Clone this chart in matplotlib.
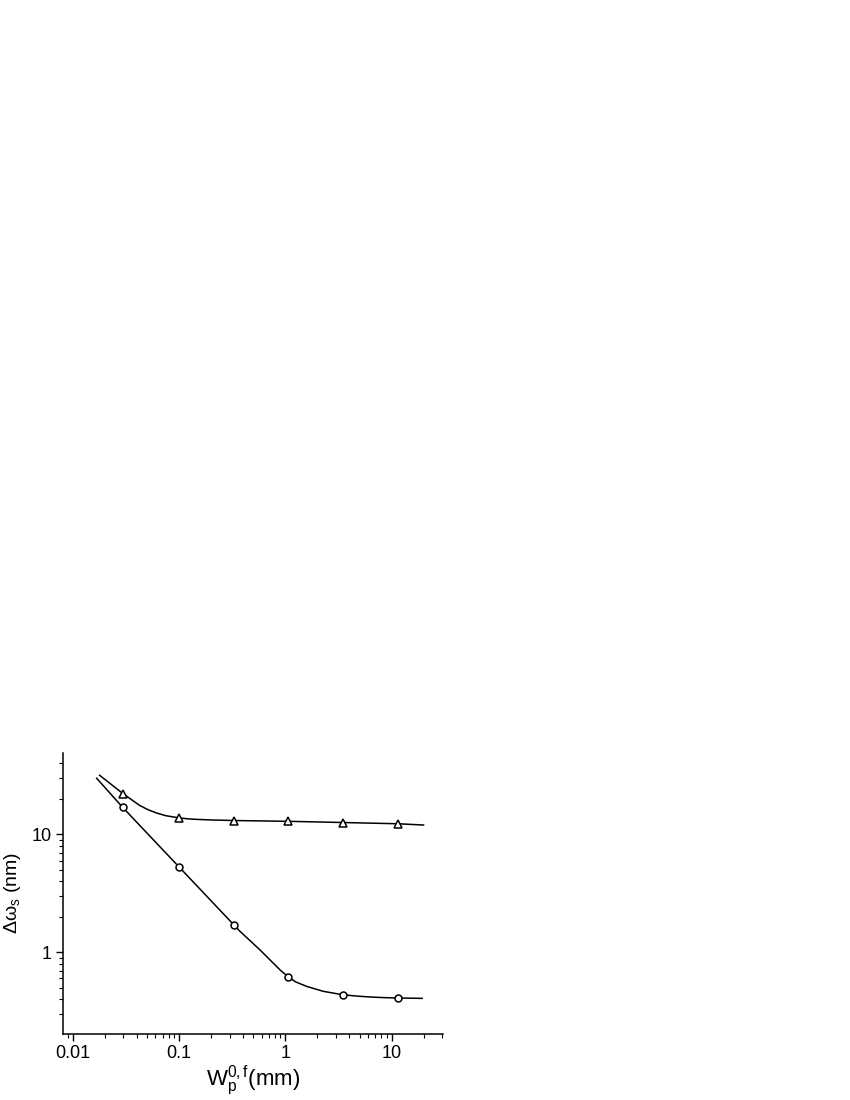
"""Signal bandwidth vs pump waist: measured points and fitted curves on log-log axes."""

import matplotlib

matplotlib.use("Agg")
import matplotlib.pyplot as plt  # noqa: E402
from matplotlib.ticker import LogLocator, NullFormatter  # noqa: E402

plt.rcParams["font.family"] = ["Liberation Sans", "DejaVu Sans"]
plt.rcParams["mathtext.fontset"] = "custom"
plt.rcParams["mathtext.rm"] = "Liberation Sans"
plt.rcParams["mathtext.it"] = "Liberation Sans:italic"

# measured points
waist = [0.03, 0.1, 0.33, 1.07, 3.5, 11.5]
width_circle = [16.9, 5.3, 1.7, 0.62, 0.435, 0.41]
width_triangle = [22.2, 13.7, 13.1, 12.9, 12.6, 12.3]

# fitted curves
fit_circle_x = [0.0168, 0.0296, 0.1, 0.33, 0.374, 0.577, 0.77, 0.9, 1.07, 1.25,
                1.59, 2.28, 3.45, 4.8, 6.3, 8.5, 11.5, 19.4]
fit_circle_y = [29.9, 16.9, 5.3, 1.7, 1.51, 1.05, 0.81, 0.705, 0.618, 0.562,
                0.514, 0.467, 0.437, 0.425, 0.418, 0.413, 0.41, 0.407]
fit_triangle_x = [0.0179, 0.0296, 0.036, 0.0426, 0.051, 0.0612, 0.075, 0.1,
                  0.12, 0.146, 0.2, 0.33, 1.07, 3.5, 11.5, 20.0]
fit_triangle_y = [31.7, 22.2, 19.6, 17.6, 16.2, 15.2, 14.4, 13.8, 13.55, 13.4,
                  13.25, 13.1, 12.9, 12.6, 12.3, 12.0]

fig = plt.figure(figsize=(8.5, 11), dpi=100)
ax = fig.add_axes([0.0741, 0.06, 0.4471, 0.2555])

ax.plot(fit_circle_x, fit_circle_y, color="black", linewidth=1.1)
ax.plot(fit_triangle_x, fit_triangle_y, color="black", linewidth=1.1)
ax.plot(waist, width_circle, linestyle="none", marker="o", markersize=5,
        markerfacecolor="white", markeredgecolor="black", markeredgewidth=1.1)
ax.plot(waist, width_triangle, linestyle="none", marker="^", markersize=6,
        markerfacecolor="white", markeredgecolor="black", markeredgewidth=1.1)

ax.set_xscale("log")
ax.set_yscale("log")
ax.set_xlim(0.0081, 30.5)
ax.set_ylim(0.203, 49)

ax.xaxis.set_minor_locator(LogLocator(base=10, subs=range(2, 10)))
ax.yaxis.set_minor_locator(LogLocator(base=10, subs=range(2, 10)))
ax.xaxis.set_minor_formatter(NullFormatter())
ax.yaxis.set_minor_formatter(NullFormatter())
ax.set_xticks([0.01, 0.1, 1, 10])
ax.set_xticklabels(["0.01", "0.1", "1", "10"])
ax.set_yticks([1, 10])
ax.set_yticklabels(["1", "10"])

for side in ("top", "right"):
    ax.spines[side].set_visible(False)
for side in ("left", "bottom"):
    ax.spines[side].set_linewidth(1.1)
ax.tick_params(which="major", direction="out", length=5, width=1.0,
               labelsize=13, pad=3)
ax.tick_params(which="minor", direction="out", length=3, width=0.8)

ax.set_xlabel(r"W$_\mathrm{p}^\mathrm{0,f}$(mm)", fontsize=16, labelpad=1)
ax.set_ylabel(r"Δω$_\mathrm{s}$ (nm)", fontsize=14, labelpad=6)

fig.savefig("out.png", dpi=100)
